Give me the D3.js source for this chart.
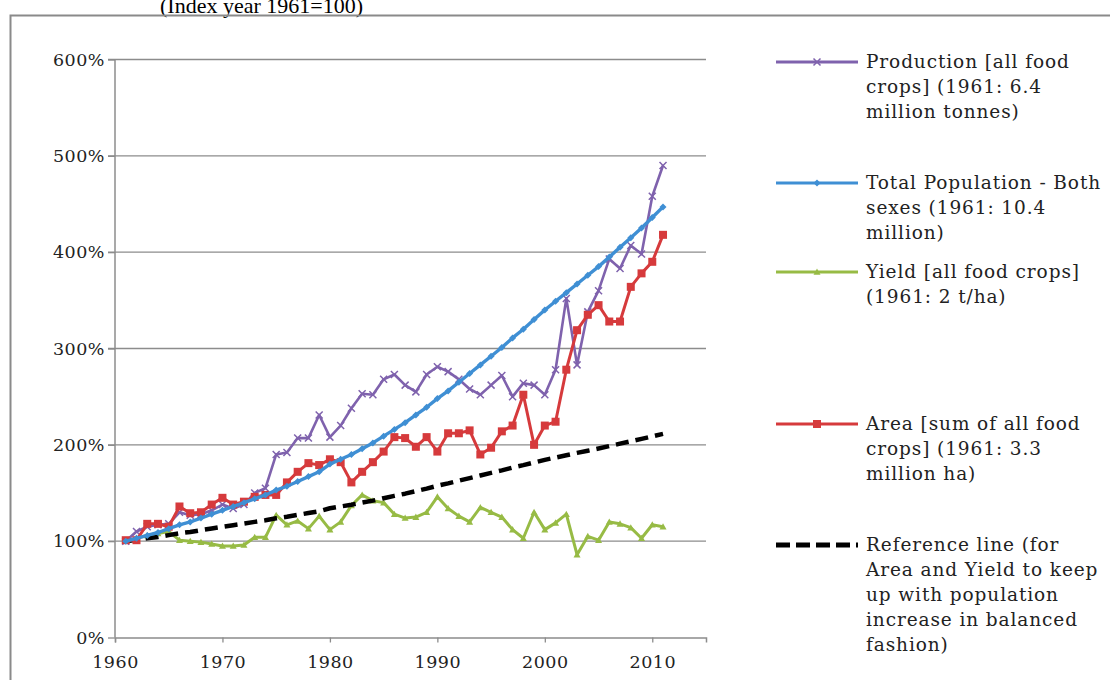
<!DOCTYPE html>
<html>
<head>
<meta charset="utf-8">
<script src="https://cdn.jsdelivr.net/npm/d3@7"></script>
<style>
  html, body { margin: 0; padding: 0; background: #fff; }
  svg { display: block; }
</style>
</head>
<body>
<svg id="chart" width="1110" height="680"></svg>
<script>
// ---------------- data ----------------
const years = d3.range(1961, 2012);
const production = [100,110,115,117,118,130,127,128,132,138,134,138,150,155,190,192,207,207,231,208,
  220,238,253,252,268,273,262,255,273,281,276,268,258,252,262,272,250,264,262,252,
  278,352,283,338,360,393,383,407,398,458,490];
const population = [100,103,106,109,113,117,120,124,128,132,136,140,144,148,153,157,162,167,172,180,
  185,190,196,202,209,216,223,231,239,248,256,265,274,283,292,301,311,320,330,340,
  349,358,367,376,385,395,405,415,425,436,447];
const yieldVals = [100,103,106,108,110,101,100,99,97,95,95,96,104,104,127,117,121,113,126,112,
  120,137,148,142,140,128,124,125,130,146,134,126,120,135,130,125,112,103,130,112,
  119,128,86,105,101,120,118,114,103,117,115];
const area = [101,101,118,118,115,136,129,130,138,145,138,141,146,148,148,161,172,181,179,185,
  182,161,172,182,193,208,207,198,208,193,212,212,215,190,197,214,220,252,200,220,
  224,278,319,335,345,328,328,364,378,390,418];
const reference = [100,101.5,103,104.4,106.3,108.2,109.5,111.4,113.1,114.9,116.6,118.3,120,121.7,123.7,125.3,127.3,129.2,131.1,134.2,
  136,137.8,140,142.1,144.6,147,149.3,152,154.6,157.5,160,162.8,165.5,168.2,170.9,173.5,176.4,178.9,181.7,184.4,
  186.8,189.2,191.6,193.9,196.2,198.7,201.2,203.7,206.2,208.8,211.4];
const yTicks = [0,100,200,300,400,500,600];
const xTicks = [1960,1970,1980,1990,2000,2010];
const seriesNames = ["Production","Population","Yield","Area","Reference"];
const legendLabels = [
  ["Production [all food", "crops] (1961: 6.4", "million tonnes)"],
  ["Total Population - Both", "sexes (1961: 10.4", "million)"],
  ["Yield [all food crops]", "(1961: 2 t/ha)"],
  ["Area [sum of all food", "crops] (1961: 3.3", "million ha)"],
  ["Reference line (for", "Area and Yield to keep", "up with population", "increase in balanced", "fashion)"]
];
const titleText = "(Index year 1961=100)";

// ---------------- layout ----------------
const svg = d3.select("#chart");
const x = d3.scaleLinear().domain([1960, 2015]).range([115, 706]);
const y = d3.scaleLinear().domain([0, 600]).range([637.5, 59.5]);

const styles = {
  Production: {color: "#7f62ad", marker: "x", width: 2.6},
  Population: {color: "#3f8fd4", marker: "dot", width: 3.4},
  Yield: {color: "#97bb45", marker: "tri", width: 3},
  Area: {color: "#d63a3c", marker: "sq", width: 3},
  Reference: {color: "#000000", marker: "none", width: 4.5, dash: "13,7"}
};
const dataMap = {Production: production, Population: population, Yield: yieldVals, Area: area, Reference: reference};

// title
svg.append("text").attr("x", 160).attr("y", 13)
  .attr("font-family", "Liberation Serif, serif").attr("font-size", 22)
  .attr("fill", "#000").text(titleText);

// chart frame
svg.append("rect").attr("x", 10.5).attr("y", 15.5).attr("width", 1110).attr("height", 680)
  .attr("fill", "none").attr("stroke", "#8a8a8a").attr("stroke-width", 2);

// gridlines
const grid = svg.append("g");
grid.selectAll("line").data(yTicks.filter(d => d > 0)).join("line")
  .attr("x1", 108).attr("x2", 706)
  .attr("y1", d => y(d)).attr("y2", d => y(d))
  .attr("stroke", "#8c8c8c").attr("stroke-width", 1.3);

// axes
const yAxis = d3.axisLeft(y).tickValues(yTicks).tickFormat(d => d + "%").tickSize(7).tickPadding(3);
const gy = svg.append("g").attr("transform", "translate(115,0)").call(yAxis);
const xAxis = d3.axisBottom(x).tickValues(xTicks).tickFormat(d3.format("d")).tickSize(5).tickPadding(13);
const gx = svg.append("g").attr("transform", "translate(0,637.5)").call(xAxis);
[gx, gy].forEach(g => {
  g.select(".domain").attr("stroke", "#8c8c8c").attr("stroke-width", 1.5);
  g.selectAll(".tick line").attr("stroke", "#8c8c8c").attr("stroke-width", 1.3);
  g.selectAll("text").attr("font-family", "DejaVu Serif, serif").attr("font-size", 17.5)
    .attr("letter-spacing", "0.5px").attr("fill", "#222");
});
gy.select(".domain").attr("d", "M0,59.5V637.5");

// series
const line = d3.line().x(d => x(d[0])).y(d => y(d[1]));

function drawMarker(g, type, cx, cy, color, s) {
  if (type === "x") {
    g.append("path").attr("d", `M${cx-s},${cy-s}L${cx+s},${cy+s}M${cx-s},${cy+s}L${cx+s},${cy-s}`)
      .attr("stroke", color).attr("stroke-width", 1.5).attr("fill", "none");
  } else if (type === "dot") {
    g.append("path").attr("d", `M${cx},${cy-s}L${cx+s},${cy}L${cx},${cy+s}L${cx-s},${cy}Z`).attr("fill", color);
  } else if (type === "tri") {
    g.append("path").attr("d", `M${cx},${cy-s}L${cx+s},${cy+s*0.8}L${cx-s},${cy+s*0.8}Z`).attr("fill", color);
  } else if (type === "sq") {
    g.append("rect").attr("x", cx-s).attr("y", cy-s).attr("width", 2*s).attr("height", 2*s).attr("fill", color);
  }
}
const markerSize = {x: 3.5, dot: 3.5, tri: 3.5, sq: 4};

const drawOrder = ["Yield", "Reference", "Production", "Area", "Population"];
drawOrder.forEach(name => {
  const st = styles[name];
  const pts = years.map((yr, i) => [yr, dataMap[name][i]]);
  const g = svg.append("g");
  g.append("path").datum(pts).attr("d", line)
    .attr("fill", "none").attr("stroke", st.color).attr("stroke-width", st.width)
    .attr("stroke-linejoin", "round")
    .attr("stroke-dasharray", st.dash || null);
  if (st.marker !== "none") {
    pts.forEach(p => drawMarker(g, st.marker, x(p[0]), y(p[1]), st.color, markerSize[st.marker]));
  }
});

// legend
const legendY = [62, 183, 272, 424, 545];
const lg = svg.append("g");
seriesNames.forEach((name, i) => {
  const st = styles[name];
  const ly = legendY[i];
  lg.append("line").attr("x1", 776).attr("x2", 858).attr("y1", ly).attr("y2", ly)
    .attr("stroke", st.color).attr("stroke-width", name === "Reference" ? 5 : 3)
    .attr("stroke-dasharray", name === "Reference" ? "14,6" : null);
  if (st.marker !== "none") drawMarker(lg, st.marker, 817, ly, st.color, markerSize[st.marker]);
  const t = lg.append("text").attr("x", 866).attr("y", ly + 6)
    .attr("font-family", "DejaVu Serif, serif").attr("font-size", 18.5)
    .attr("letter-spacing", "0.9px").attr("fill", "#222");
  legendLabels[i].forEach((s, j) => {
    t.append("tspan").attr("x", 866).attr("dy", j === 0 ? 0 : 25).text(s);
  });
});
</script>
</body>
</html>
